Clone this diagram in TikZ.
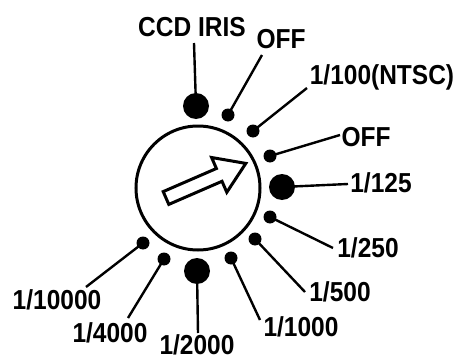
\documentclass[tikz,border=0pt]{standalone}
\usepackage{fontspec}
\usepackage{graphicx}
\setmainfont{Liberation Sans}
\newcommand{\tallt}[1]{\scalebox{1}[1.12]{#1}}
\begin{document}
\begin{tikzpicture}[x=1pt,y=-1pt,
  bigdot/.style={circle,fill=black,draw=none,minimum size=26pt,inner sep=0pt},
  smalldot/.style={circle,fill=black,draw=none,minimum size=13pt,inner sep=0pt},
  lbl/.style={font=\fontsize{24.5}{24}\selectfont\bfseries,inner sep=0pt},
  conn/.style={line width=2.4pt}]
\useasboundingbox (0,0) rectangle (467,359);
% dial
\node[circle,draw,line width=3pt,minimum size=124pt,inner sep=0pt] (dial) at (198,188) {};
% arrow
\draw[line width=3pt,line join=miter] (163.2,191.6) -- (168.8,204.4) -- (222.0,181.3) -- (226.8,192.3)
  -- (245.8,163.4) -- (211.6,157.5) -- (216.4,168.5) -- cycle;
% dots
\node[bigdot] (iris) at (196,106) {};
\node[smalldot] (off1) at (228,115) {};
\node[smalldot] (ntsc) at (253,131) {};
\node[smalldot] (off2) at (270,156) {};
\node[bigdot] (s125) at (282,187) {};
\node[smalldot] (s250) at (270,217) {};
\node[smalldot] (s500) at (255,239) {};
\node[smalldot] (s1000) at (231,258) {};
\node[bigdot] (s2000) at (197,271) {};
\node[smalldot] (s4000) at (164,259) {};
\node[smalldot] (s10000) at (143,243) {};
% labels
\node[lbl] (l-iris) at (192,27) {\tallt{CCD IRIS}};
\node[lbl] (l-off1) at (281,39) {\tallt{OFF}};
\node[lbl] (l-ntsc) at (382,77) {\tallt{1/100(NTSC)}};
\node[lbl] (l-off2) at (366,137) {\tallt{OFF}};
\node[lbl] (l-125) at (381,183) {\tallt{1/125}};
\node[lbl] (l-250) at (368,248) {\tallt{1/250}};
\node[lbl] (l-500) at (340,292) {\tallt{1/500}};
\node[lbl] (l-1000) at (301,327) {\tallt{1/1000}};
\node[lbl] (l-2000) at (197,345) {\tallt{1/2000}};
\node[lbl] (l-4000) at (110,333) {\tallt{1/4000}};
\node[lbl] (l-10000) at (57,300) {\tallt{1/10000}};
% connector ends
\coordinate (e-iris) at (194,43);
\coordinate (e-off1) at (262,55);
\coordinate (e-ntsc) at (307,88);
\coordinate (e-off2) at (340,135);
\coordinate (e-125) at (348,184);
\coordinate (e-250) at (333,248);
\coordinate (e-500) at (305,292);
\coordinate (e-1000) at (260,320);
\coordinate (e-2000) at (198,333);
\coordinate (e-4000) at (128,318);
\coordinate (e-10000) at (86,287);
% connectors
\draw[conn] (iris.center) -- (e-iris);
\draw[conn] (off1.center) -- (e-off1);
\draw[conn] (ntsc.center) -- (e-ntsc);
\draw[conn] (off2.center) -- (e-off2);
\draw[conn] (s125.center) -- (e-125);
\draw[conn] (s250.center) -- (e-250);
\draw[conn] (s500.center) -- (e-500);
\draw[conn] (s1000.center) -- (e-1000);
\draw[conn] (s2000.center) -- (e-2000);
\draw[conn] (s4000.center) -- (e-4000);
\draw[conn] (s10000.center) -- (e-10000);
\end{tikzpicture}
\end{document}
